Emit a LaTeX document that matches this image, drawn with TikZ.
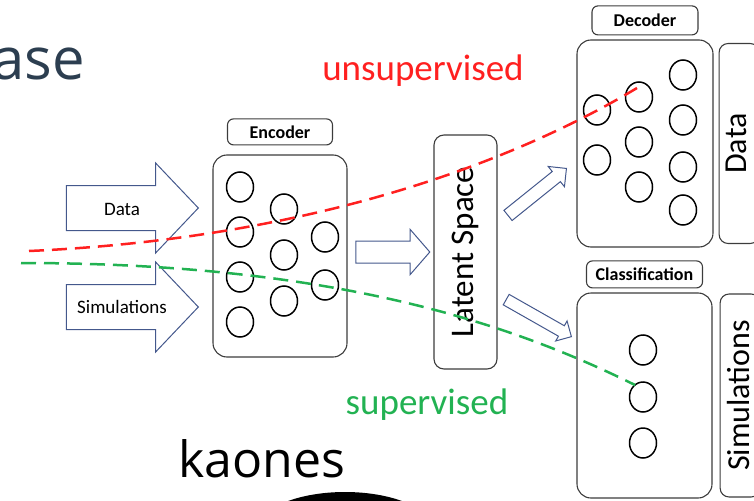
\documentclass[tikz,border=0pt]{standalone}
\usepackage{fontspec}
\setmainfont{Carlito}
\newfontfamily\slidefont{Open Sans}
\usepackage{tikz}
\usetikzlibrary{positioning, shapes.geometric, shapes.arrows}

\definecolor{arrowblue}{RGB}{68,88,140}
\definecolor{boxgray}{RGB}{60,60,60}
\definecolor{unsupred}{RGB}{255,32,32}
\definecolor{supgreen}{RGB}{34,178,82}
\definecolor{slate}{RGB}{44,62,80}

\begin{document}
\begin{tikzpicture}[
  x=1pt, y=-1pt,
  box/.style={
    rectangle, draw=boxgray, line width=1.1pt,
    rounded corners=14pt, inner sep=0pt
  },
  tag/.style={
    rectangle, draw=boxgray, line width=1.1pt, rounded corners=6pt,
    inner sep=0pt, font=\bfseries\fontsize{18}{18}\selectfont
  },
  panel/.style={box, rounded corners=9pt, minimum width=40pt},
  neuron/.style={
    ellipse, draw=black, line width=1.5pt,
    minimum width=27pt, minimum height=30pt, inner sep=0pt
  },
  blockarrow/.style={single arrow, draw=arrowblue, line width=1pt, inner sep=0pt},
  lbl/.style={font=\fontsize{19}{19}\selectfont},
  flow/.style={line width=2.5pt, dash pattern=on 15pt off 8pt}
]
  \useasboundingbox (0,0) rectangle (754,500);
  \clip (0,0) rectangle (754,500);

  % slide text
  \node [anchor=base east, inner sep=0pt, text=slate,
         font=\slidefont\fontsize{58}{58}\selectfont] (title) at (85,80) {ase};
  \node [anchor=base west, inner sep=0pt,
         font=\slidefont\fontsize{50}{50}\selectfont] (kaones) at (178,477) {kaones};
  \node [ellipse, fill=black, inner sep=0pt, minimum width=180pt, minimum height=80pt] (ball) at (345,532) {};

  % encoder
  \node [box, minimum width=134pt, minimum height=202pt] (encoder) at (280,256) {};
  \node [tag, minimum width=105pt, minimum height=26pt, above=9pt of encoder] (enclabel) {Encoder};
  \foreach \x/\y [count=\i] in {240/187, 240/232, 240/277, 240/322,
                                284/209, 284/255, 284/301, 325/237, 325/285}
    \node [neuron] (enc\i) at (\x,\y) {};

  % inputs
  \node [blockarrow, minimum height=132pt, inner ysep=22pt, single arrow head extend=22.5pt,
         single arrow tip angle=93, anchor=tip] (dataarrow) at (199,208) {};
  \node [blockarrow, minimum height=132pt, inner ysep=22pt, single arrow head extend=22.5pt,
         single arrow tip angle=93, anchor=tip] (simarrow) at (199,307) {};
  \node [lbl] (datalbl) at (122,209) {Data};
  \node [lbl] (simlbl) at (122,307) {Simulations};

  % latent space
  \node [box, rounded corners=10pt, minimum width=63pt, minimum height=234pt,
         label={[rotate=90, font=\fontsize{33}{33}\selectfont]center:Latent Space}] (latent) at (465.5,252) {};
  \node [blockarrow, minimum height=74pt, inner ysep=10.5pt, single arrow head extend=11.5pt,
         single arrow tip angle=98, anchor=tip] (toLatent) at ([xshift=-3pt]latent.west) {};

  % decoder
  \node [box, minimum width=136pt, minimum height=207pt] (decoder) at (645,143.5) {};
  \node [tag, minimum width=106pt, minimum height=29pt, above=4pt of decoder] (declabel) {Decoder};
  \foreach \x/\y [count=\i] in {597/110, 597/160, 639/97, 639/142, 639/187,
                                683/75, 683/120, 683/167, 683/210}
    \node [neuron] (dec\i) at (\x,\y) {};
  \node [panel, minimum height=200pt, right=5pt of decoder,
         label={[rotate=90, yshift=3pt, font=\fontsize{32}{32}\selectfont]center:Data}] (datapanel) {};

  % classification
  \node [box, minimum width=135pt, minimum height=205pt] (classif) at (644.5,395.5) {};
  \node [tag, minimum width=116pt, minimum height=27pt, above=4pt of classif] (clslabel) {Classification};
  \foreach \y [count=\i] in {350, 397, 443}
    \node [neuron] (cls\i) at (643,\y) {};
  \node [panel, minimum height=203pt, right=7pt of classif,
         label={[rotate=90, yshift=2pt, font=\fontsize{32}{32}\selectfont]center:Simulations}] (simpanel) {};

  % latent -> heads
  \node [blockarrow, minimum height=75pt, inner ysep=6pt, single arrow head extend=6.5pt,
         rotate=38.8, anchor=tip] (toDecoder) at (567,168) {};
  \node [blockarrow, minimum height=75pt, inner ysep=5.5pt, single arrow head extend=5.5pt,
         rotate=-29.6, anchor=tip] (toClassif) at (572,337) {};

  % training paths
  \coordinate (redstart) at (29,251);
  \coordinate (greenstart) at (21,263);
  \draw [flow, unsupred] (redstart) .. controls (320,238) and (520,158) .. ([xshift=-2pt, yshift=9pt]dec3.center);
  \draw [flow, supgreen] (greenstart) .. controls (320,263) and (500,318) .. ([xshift=-8pt, yshift=12pt]cls2.center);
  \node [font=\fontsize{37}{37}\selectfont, text=unsupred] (unsup) at (423,71) {unsupervised};
  \node [font=\fontsize{37}{37}\selectfont, text=supgreen] (sup) at (427,405) {supervised};

\end{tikzpicture}
\end{document}
